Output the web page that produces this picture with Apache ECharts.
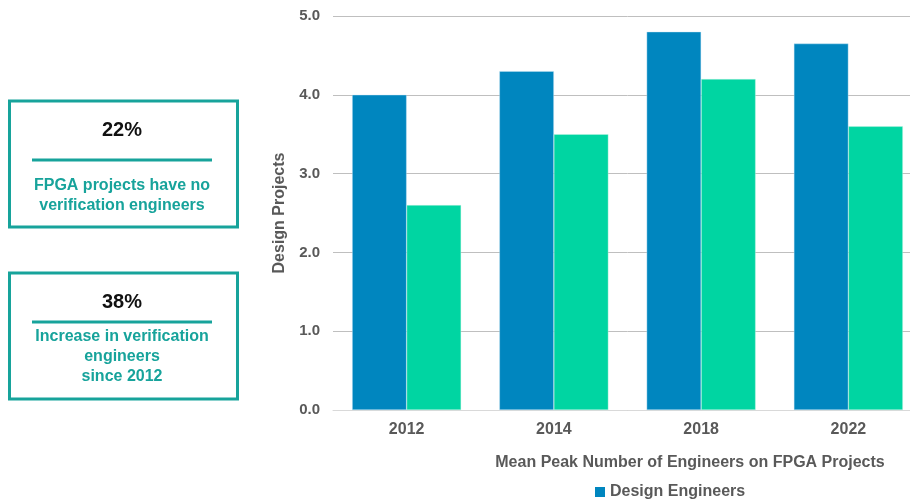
<!DOCTYPE html>
<html>
<head>
<meta charset="utf-8">
<title>Mean Peak Number of Engineers on FPGA Projects</title>
<script src="https://cdn.jsdelivr.net/npm/echarts@6/dist/echarts.min.js"></script>
<style>
  html, body { margin: 0; padding: 0; background: #ffffff; overflow: hidden; }
  #wrap { width: 910px; height: 502px; overflow: hidden; }
  /* plot area runs past the right edge of the page and is clipped there */
  #chart { width: 922px; height: 502px; }
</style>
</head>
<body>
<div id="wrap"><div id="chart"></div></div>
<script>
// Survey years on the category axis
var years = ['2012', '2014', '2018', '2022'];
// Mean peak engineers per FPGA project
var designEngineers = [4.0, 4.3, 4.8, 4.65];
var verificationEngineers = [2.6, 3.5, 4.2, 3.6];
// Value axis ticks
var yTicks = [0, 1, 2, 3, 4, 5];

// Callout boxes on the left
var callouts = [
  { value: '22%', lines: ['FPGA projects have no', 'verification engineers'] },
  { value: '38%', lines: ['Increase in verification', 'engineers', 'since 2012'] }
];

var FONT = '"Liberation Sans", Arial, sans-serif';
var TEAL = '#17A39B';
var GREY = '#595959';

function calloutGraphics() {
  var out = [];
  var layouts = [
    { top: 101, height: 126, valueY: 130, ruleY: 160, textY: 186, lineH: 20 },
    { top: 273, height: 126, valueY: 302, ruleY: 322, textY: 337, lineH: 20 }
  ];
  callouts.forEach(function (c, i) {
    var L = layouts[i];
    out.push({
      type: 'rect',
      shape: { x: 9.5, y: L.top, width: 228, height: L.height },
      style: { fill: '#ffffff', stroke: TEAL, lineWidth: 3 }
    });
    out.push({
      type: 'text',
      x: 122, y: L.valueY,
      style: {
        text: c.value, fill: '#111111',
        font: 'bold 20px ' + FONT,
        align: 'center', verticalAlign: 'middle'
      }
    });
    out.push({
      type: 'line',
      shape: { x1: 32, y1: L.ruleY, x2: 212, y2: L.ruleY },
      style: { stroke: TEAL, lineWidth: 3 }
    });
    c.lines.forEach(function (t, k) {
      out.push({
        type: 'text',
        x: 122, y: L.textY + k * L.lineH,
        style: {
          text: t, fill: TEAL,
          font: 'bold 16px ' + FONT,
          align: 'center', verticalAlign: 'middle'
        }
      });
    });
  });
  return out;
}

var chart = echarts.init(document.getElementById('chart'), null, { renderer: 'canvas' });

chart.setOption({
  animation: false,
  backgroundColor: '#ffffff',
  textStyle: { fontFamily: FONT },
  grid: { left: 333, top: 16, right: 0, height: 394, containLabel: false },
  legend: {
    data: ['Design Engineers'],
    left: 590, top: 479,
    icon: 'rect', itemWidth: 10, itemHeight: 10, itemGap: 20,
    itemStyle: { borderWidth: 0 },
    textStyle: { color: GREY, fontSize: 16, fontWeight: 'bold', fontFamily: FONT }
  },
  xAxis: {
    type: 'category',
    data: years,
    name: 'Mean Peak Number of Engineers on FPGA Projects',
    nameLocation: 'middle',
    nameGap: 45,
    nameTextStyle: {
      color: GREY, fontSize: 16, fontWeight: 'bold', fontFamily: FONT,
      padding: [0, 0, 0, 125]
    },
    axisLine: { show: true, lineStyle: { color: '#D9D9D9', width: 1 } },
    axisTick: { show: false },
    axisLabel: { color: GREY, fontSize: 16, fontWeight: 'bold', margin: 12, fontFamily: FONT }
  },
  yAxis: {
    type: 'value',
    min: yTicks[0],
    max: yTicks[yTicks.length - 1],
    interval: 1,
    name: 'Design Projects',
    nameLocation: 'middle',
    nameGap: 45,
    nameTextStyle: { color: GREY, fontSize: 16, fontWeight: 'bold', fontFamily: FONT },
    axisLine: { show: false },
    axisTick: { show: false },
    axisLabel: {
      color: GREY, fontSize: 15, fontWeight: 'bold', margin: 13, fontFamily: FONT,
      formatter: function (v) { return v.toFixed(1); }
    },
    splitLine: { lineStyle: { color: '#BFBFBF', width: 1 } }
  },
  series: [
    {
      name: 'Design Engineers',
      type: 'bar',
      data: designEngineers,
      barWidth: 54.5,
      barGap: '0%',
      itemStyle: { color: '#0086BF', borderColor: 'rgba(200,230,245,0.8)', borderWidth: 0.5 }
    },
    {
      name: 'Verification Engineers',
      type: 'bar',
      data: verificationEngineers,
      barWidth: 54.5,
      barGap: '0%',
      itemStyle: { color: '#00D5A2', borderColor: 'rgba(200,245,230,0.8)', borderWidth: 0.5 }
    }
  ],
  graphic: calloutGraphics()
});
</script>
</body>
</html>
